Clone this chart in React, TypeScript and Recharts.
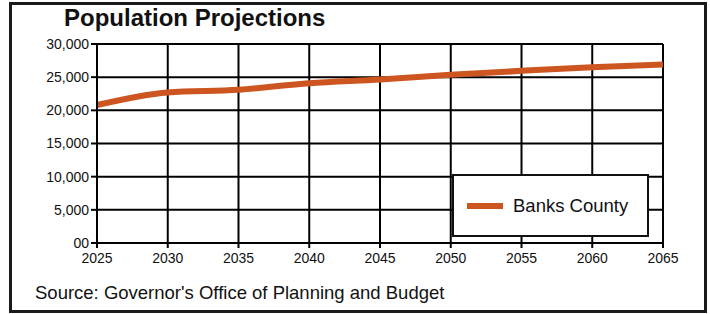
import { LineChart, Line, XAxis, YAxis, CartesianGrid } from 'recharts'

const years = [2025, 2030, 2035, 2040, 2045, 2050, 2055, 2060, 2065]
const banksCounty = [20800, 22700, 23100, 24100, 24650, 25350, 25950, 26500, 26900]
const yTicks = [0, 5000, 10000, 15000, 20000, 25000, 30000]

const data = years.map((year, i) => ({ year, banks: banksCounty[i] }))

const font = 'Arial, "Liberation Sans", sans-serif'
const lineColor = '#cd5520'

const formatY = (v: number) => (v === 0 ? '00' : v.toLocaleString('en-US'))

const App = () => {
  return (
    <div style={{ position: 'absolute', left: 0, top: 0, width: 710, height: 314, background: '#fff' }}>
      <div
        style={{
          position: 'absolute',
          left: 9,
          top: 2,
          width: 698,
          height: 311,
          boxSizing: 'border-box',
          border: '3px solid #1a1a1a',
        }}
      />
      <div
        style={{
          position: 'absolute',
          left: 64,
          top: 4,
          fontFamily: font,
          fontWeight: 'bold',
          fontSize: 24,
          color: '#111',
        }}
      >
        Population Projections
      </div>
      <div style={{ position: 'absolute', left: 0, top: 0 }}>
        <LineChart width={710} height={314} data={data} margin={{ top: 44, right: 47, bottom: 41, left: 37 }}>
          <CartesianGrid stroke="#000" strokeWidth={2} strokeOpacity={1} />
          <XAxis
            dataKey="year"
            type="number"
            domain={[2025, 2065]}
            ticks={years}
            height={30}
            stroke="#000"
            strokeWidth={2}
            tickSize={5}
            tickMargin={5}
            tick={{ fill: '#111', fontSize: 14, fontFamily: font }}
          />
          <YAxis
            type="number"
            domain={[0, 30000]}
            ticks={yTicks}
            width={60}
            stroke="#000"
            strokeWidth={2}
            tickSize={6}
            tickFormatter={formatY}
            tick={{ fill: '#111', fontSize: 14, fontFamily: font }}
          />
          <Line
            dataKey="banks"
            name="Banks County"
            type="monotone"
            stroke={lineColor}
            strokeWidth={6}
            dot={false}
            activeDot={false}
            isAnimationActive={false}
          />
        </LineChart>
      </div>
      {/* legend box drawn on top of the grid */}
      <div
        style={{
          position: 'absolute',
          left: 452,
          top: 174,
          width: 197,
          height: 63,
          boxSizing: 'border-box',
          border: '2px solid #111',
          background: '#fff',
          display: 'flex',
          alignItems: 'center',
          fontFamily: font,
          fontSize: 18.5,
          color: '#111',
        }}
      >
        <span style={{ display: 'inline-block', width: 36, height: 6, background: lineColor, marginLeft: 13, marginRight: 10 }} />
        Banks County
      </div>
      <div
        style={{
          position: 'absolute',
          left: 35,
          top: 282,
          fontFamily: font,
          fontSize: 18.5,
          color: '#111',
        }}
      >
        Source: Governor's Office of Planning and Budget
      </div>
    </div>
  )
}

export default App
